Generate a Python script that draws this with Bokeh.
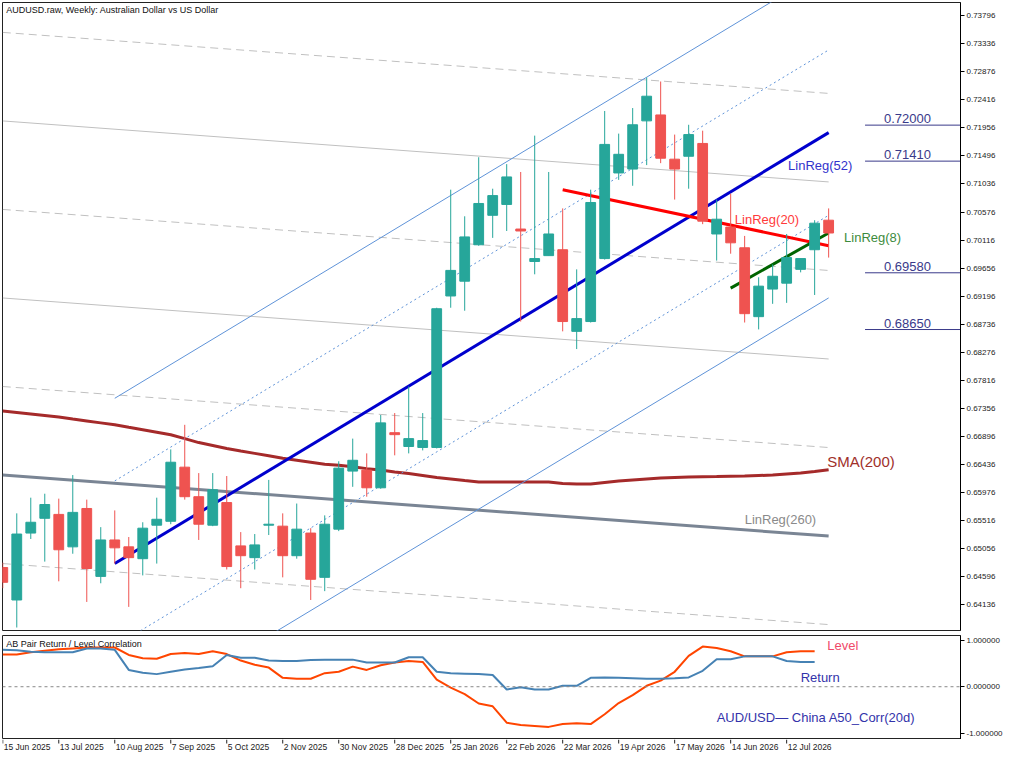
from bokeh.plotting import figure
from bokeh.models import Range1d, FixedTicker, PrintfTickFormatter, Label, Span, ColumnDataSource
from bokeh.core.properties import value
from bokeh.layouts import column
from bokeh.embed import file_html
from bokeh.resources import INLINE

# ---------------- data ----------------
opens = [0.64749, 0.64217, 0.65314, 0.65556, 0.65620, 0.65088, 0.65717, 0.64604, 0.65201, 0.65088,
         0.64894, 0.65443, 0.65507, 0.66394, 0.65910, 0.65443, 0.65814, 0.65104, 0.64911, 0.65443,
         0.65427, 0.64943, 0.65314, 0.64588, 0.65378, 0.66330, 0.66346, 0.66056, 0.66959, 0.66733,
         0.66717, 0.66717, 0.69200, 0.69442, 0.70039, 0.70522, 0.70700, 0.70297, 0.69765, 0.69861,
         0.69958, 0.68620, 0.68781, 0.69813, 0.71216, 0.71280, 0.72070, 0.72167, 0.71442, 0.71490,
         0.71700, 0.70216, 0.70329, 0.69990, 0.68861, 0.69313, 0.69410, 0.69636, 0.69958, 0.70442]
highs = [0.64830, 0.65637, 0.65894, 0.65959, 0.65878, 0.66265, 0.65862, 0.65411, 0.65685, 0.65249,
         0.65491, 0.65894, 0.66685, 0.67088, 0.66297, 0.66297, 0.66249, 0.65330, 0.65298, 0.66185,
         0.65637, 0.65798, 0.65394, 0.65604, 0.66491, 0.66862, 0.66620, 0.67249, 0.67281, 0.67717,
         0.67281, 0.69007, 0.70942, 0.70506, 0.71474, 0.70958, 0.71361, 0.71232, 0.71828, 0.71232,
         0.70635, 0.69636, 0.70942, 0.72232, 0.71861, 0.72280, 0.72780, 0.72715, 0.71845, 0.72006,
         0.71909, 0.70780, 0.70877, 0.70184, 0.69506, 0.69716, 0.70216, 0.69813, 0.70442, 0.70635]
lows = [0.64410, 0.63766, 0.65217, 0.64846, 0.64523, 0.64975, 0.64185, 0.64491, 0.64814, 0.64104,
        0.64620, 0.64814, 0.65459, 0.65862, 0.65201, 0.65427, 0.64717, 0.64410, 0.64717, 0.65282,
        0.64588, 0.64894, 0.64217, 0.64362, 0.65346, 0.66072, 0.65910, 0.66040, 0.66588, 0.66620,
        0.66669, 0.66701, 0.69007, 0.68958, 0.70023, 0.70152, 0.70265, 0.68781, 0.69555, 0.69861,
        0.68620, 0.68330, 0.68765, 0.69797, 0.71103, 0.71006, 0.71345, 0.71377, 0.70780, 0.70958,
        0.70377, 0.69780, 0.69893, 0.68765, 0.68652, 0.69071, 0.69087, 0.69587, 0.69216, 0.69829]
closes = [0.64507, 0.65298, 0.65491, 0.65782, 0.65040, 0.65653, 0.64733, 0.65201, 0.65072, 0.64911,
          0.65394, 0.65540, 0.66475, 0.65910, 0.65459, 0.66023, 0.64765, 0.64943, 0.65120, 0.65459,
          0.64943, 0.65378, 0.64556, 0.65459, 0.66378, 0.66507, 0.66056, 0.67120, 0.66927, 0.66862,
          0.66830, 0.68991, 0.69619, 0.70168, 0.70716, 0.70845, 0.71151, 0.70265, 0.69813, 0.70216,
          0.68781, 0.68829, 0.70732, 0.71684, 0.71522, 0.72006, 0.72474, 0.71458, 0.71280, 0.71845,
          0.70426, 0.70458, 0.70071, 0.68910, 0.69361, 0.69523, 0.69829, 0.69813, 0.70393, 0.70232]

sma200 = [0.67313, 0.67289, 0.67265, 0.67241, 0.67217, 0.67184, 0.67152, 0.67120, 0.67088, 0.67047,
          0.67007, 0.66967, 0.66926, 0.66862, 0.66797, 0.66749, 0.66701, 0.66660, 0.66620, 0.66580,
          0.66539, 0.66507, 0.66475, 0.66443, 0.66426, 0.66402, 0.66370, 0.66346, 0.66314, 0.66289,
          0.66257, 0.66225, 0.66201, 0.66176, 0.66152, 0.66152, 0.66152, 0.66152, 0.66152, 0.66152,
          0.66128, 0.66120, 0.66120, 0.66144, 0.66168, 0.66185, 0.66201, 0.66217, 0.66225, 0.66233,
          0.66238, 0.66241, 0.66246, 0.66249, 0.66257, 0.66265, 0.66281, 0.66297, 0.66322, 0.66351]

corr_return = [0.79, 0.78, 0.75, 0.74, 0.74, 0.74, 0.82, 0.82, 0.79, 0.36,
               0.30, 0.27, 0.32, 0.37, 0.40, 0.44, 0.68, 0.62, 0.62, 0.56,
               0.55, 0.55, 0.57, 0.58, 0.58, 0.58, 0.52, 0.52, 0.52, 0.63,
               0.63, 0.32, 0.29, 0.28, 0.27, 0.25, -0.06, -0.01, -0.06, -0.06,
               0.02, 0.02, 0.19, 0.20, 0.19, 0.18, 0.17, 0.17, 0.18, 0.20,
               0.34, 0.59, 0.59, 0.65, 0.65, 0.65, 0.55, 0.53, 0.53]
corr_level = [0.69, 0.69, 0.74, 0.77, 0.80, 0.82, 0.84, 0.84, 0.84, 0.68,
              0.61, 0.60, 0.70, 0.72, 0.70, 0.76, 0.70, 0.56, 0.47, 0.41,
              0.19, 0.17, 0.17, 0.29, 0.32, 0.43, 0.36, 0.46, 0.52, 0.55,
              0.53, 0.15, -0.02, -0.16, -0.36, -0.42, -0.77, -0.82, -0.84, -0.86,
              -0.80, -0.78, -0.80, -0.59, -0.35, -0.18, 0.02, 0.13, 0.32, 0.66,
              0.86, 0.83, 0.76, 0.65, 0.65, 0.65, 0.74, 0.76, 0.76]

date_ticks = [0, 4, 8, 12, 16, 20, 24, 28, 32, 36, 40, 44, 48, 52, 56]
date_labels = ["15 Jun 2025", "13 Jul 2025", "10 Aug 2025", "7 Sep 2025", "5 Oct 2025",
               "2 Nov 2025", "30 Nov 2025", "28 Dec 2025", "25 Jan 2026", "22 Feb 2026",
               "22 Mar 2026", "19 Apr 2026", "17 May 2026", "14 Jun 2026", "12 Jul 2026"]
price_ticks = [0.64136, 0.64596, 0.65056, 0.65516, 0.65976, 0.66436, 0.66896, 0.67356,
               0.67816, 0.68276, 0.68736, 0.69196, 0.69656, 0.70116, 0.70576, 0.71036,
               0.71496, 0.71956, 0.72416, 0.72876, 0.73336, 0.73796]
corr_ticks = [-1.0, 0.0, 1.0]
levels = [0.72000, 0.71410, 0.69580, 0.68650]
level_labels = ["0.72000", "0.71410", "0.69580", "0.68650"]

# regression lines: (x start, y start, x end, y end)
lr52 = (8, 0.64814, 59, 0.71877)
lr52_dev = [0.01355, 0.02709]
lr20 = (40, 0.70942, 59, 0.70023)
lr8 = (52, 0.69329, 59, 0.70232)
lr260 = (0, 0.66265, 59, 0.65265)
lr260_step = 0.01451
lr260_levels = [-1, 1, 2, 3, 4, 5]

# ---------------- styling ----------------
FONT = "Liberation Sans"
UP, DN = "#26a69a", "#ef5350"
FW = 958
XR = Range1d(-0.02, 68.42)
P_LO, P_HI = 0.63717, 0.74010
C_LO, C_HI = -1.13, 1.097

n = len(opens)
idx = list(range(n))
src = ColumnDataSource(dict(
    x=idx, h=highs, l=lows,
    top=[max(o, c) for o, c in zip(opens, closes)],
    bot=[min(o, c) for o, c in zip(opens, closes)],
    col=[UP if c >= o else DN for o, c in zip(opens, closes)],
))

p1 = figure(frame_width=FW, frame_height=628, x_range=XR, y_range=Range1d(P_LO, P_HI),
            toolbar_location=None, output_backend="svg", x_axis_location=None,
            y_axis_location="right", min_border_left=2, min_border_right=0,
            min_border_top=2, min_border_bottom=2)
p1.grid.visible = False
p1.outline_line_color = "#222222"
ax = p1.yaxis[0]
ax.ticker = FixedTicker(ticks=price_ticks)
ax.formatter = PrintfTickFormatter(format="%.5f")
ax.major_tick_in = 0
ax.major_tick_out = 4
ax.minor_tick_in = 0
ax.minor_tick_out = 0
ax.major_label_standoff = 2
ax.major_label_text_font = FONT
ax.major_label_text_font_size = "8px"
ax.major_label_text_color = "#222222"
ax.axis_line_color = "#000000"

# LinReg(260) channel
xa, ya, xb, yb = lr260
for k in lr260_levels:
    dash = "solid" if k in (2, 4) else "8 5"
    p1.line([xa, xb], [ya + k * lr260_step, yb + k * lr260_step],
            line_color="#c0c0c0", line_width=1, line_dash=dash)
p1.line([xa, xb], [ya, yb], line_color="#7a8594", line_width=3)

# SMA(200)
p1.line(idx, sma200, line_color="#a52a2a", line_width=3)

# LinReg(52) channel
xa, ya, xb, yb = lr52
for d, dash in zip(lr52_dev, ["2 3", "solid"]):
    for sgn in (1, -1):
        p1.line([xa, xb], [ya + sgn * d, yb + sgn * d], line_color="#5f93d8",
                line_width=1, line_dash=dash)
p1.line([xa, xb], [ya, yb], line_color="#0000cd", line_width=3)
p1.line([lr20[0], lr20[2]], [lr20[1], lr20[3]], line_color="#ff0000", line_width=3)
p1.line([lr8[0], lr8[2]], [lr8[1], lr8[3]], line_color="#006400", line_width=3)

# candles
p1.segment(x0="x", y0="l", x1="x", y1="h", line_color="col", line_width=1, source=src)
p1.vbar(x="x", width=0.7, top="top", bottom="bot", fill_color="col", line_color="col",
        line_width=1, source=src)

# price levels
lv_src = ColumnDataSource(dict(y=levels, x0=[61.6] * len(levels), x1=[70] * len(levels)))
p1.segment(x0="x0", y0="y", x1="x1", y1="y", line_color="#3a3a8a", line_width=1, source=lv_src)
for lv, txt in zip(levels, level_labels):
    p1.add_layout(Label(x=62.95, y=lv, y_offset=2, text=txt, text_baseline="bottom",
                        text_font=FONT, text_font_size="13px", text_color="#3a3a8a"))

def lab(fig, x, y, text, color, size="13px", baseline="middle", y_offset=0):
    fig.add_layout(Label(x=x, y=y, y_offset=y_offset, text=text, text_baseline=baseline,
                         text_font=FONT, text_font_size=size, text_color=color))

lab(p1, 0.25, P_HI, "AUDUSD.raw, Weekly:  Australian Dollar vs US Dollar", "#111111",
    size="9px", baseline="top", y_offset=-2)
lab(p1, 56.1, 0.71345, "LinReg(52)", "#3333cc")
lab(p1, 52.3, 0.70458, "LinReg(20)", "#ff3b3b")
lab(p1, 60.1, 0.70152, "LinReg(8)", "#3d8b3d")
lab(p1, 58.9, 0.66491, "SMA(200)", "#a0302a", size="15px")
lab(p1, 53.0, 0.65539, "LinReg(260)", "#8a8a8a")

# ---------------- indicator ----------------
p2 = figure(frame_width=FW, frame_height=104, x_range=XR, y_range=Range1d(C_LO, C_HI),
            toolbar_location=None, output_backend="svg", y_axis_location="right",
            x_axis_location=None, min_border_left=2, min_border_right=0,
            min_border_top=3, min_border_bottom=0)
p2.grid.visible = False
p2.outline_line_color = "#222222"
ay = p2.yaxis[0]
ay.ticker = FixedTicker(ticks=corr_ticks)
ay.formatter = PrintfTickFormatter(format="%.6f")
ay.major_tick_in = 0
ay.major_tick_out = 4
ay.minor_tick_in = 0
ay.minor_tick_out = 0
ay.major_label_standoff = 2
ay.major_label_text_font = FONT
ay.major_label_text_font_size = "8px"
ay.major_label_text_color = "#222222"

p2.add_layout(Span(location=0, dimension="width", line_color="#888888", line_width=1,
                   line_dash="3 3"))
p2.line(list(range(len(corr_level))), corr_level, line_color="#ff4500", line_width=2)
p2.line(list(range(len(corr_return))), corr_return, line_color="#4682b4", line_width=2)

lab(p2, 0.25, C_HI, "AB Pair Return / Level Correlation", "#111111", size="9px",
    baseline="top", y_offset=-3)
lab(p2, 58.9, 0.89, "Level", "#f04a6a")
lab(p2, 57.0, 0.19, "Return", "#3333aa")
lab(p2, 51.0, -0.66, "AUD/USD\u2014 China A50_Corr(20d)", "#3333aa")

# ---------------- date strip (labels start at their tick) ----------------
p3 = figure(frame_width=FW, frame_height=18, x_range=XR, y_range=Range1d(0, 18),
            toolbar_location=None, output_backend="svg", x_axis_location=None,
            y_axis_location=None, min_border_left=2, min_border_right=0,
            min_border_top=0, min_border_bottom=0)
p3.grid.visible = False
p3.outline_line_color = None
nt = len(date_ticks)
dsrc = ColumnDataSource(dict(x=date_ticks, y0=[18] * nt, y1=[14] * nt,
                             ty=[15.5] * nt, text=date_labels))
p3.segment(x0="x", y0="y0", x1="x", y1="y1", line_color="#222222", line_width=1, source=dsrc)
p3.text(x="x", y="ty", text="text", source=dsrc, x_offset=1, text_align="left",
        text_baseline="top", text_font=value(FONT), text_font_size=value("8.5px"),
        text_color="#222222")

layout = column(p1, p2, p3)
open("out.html", "w").write(file_html(layout, INLINE))
